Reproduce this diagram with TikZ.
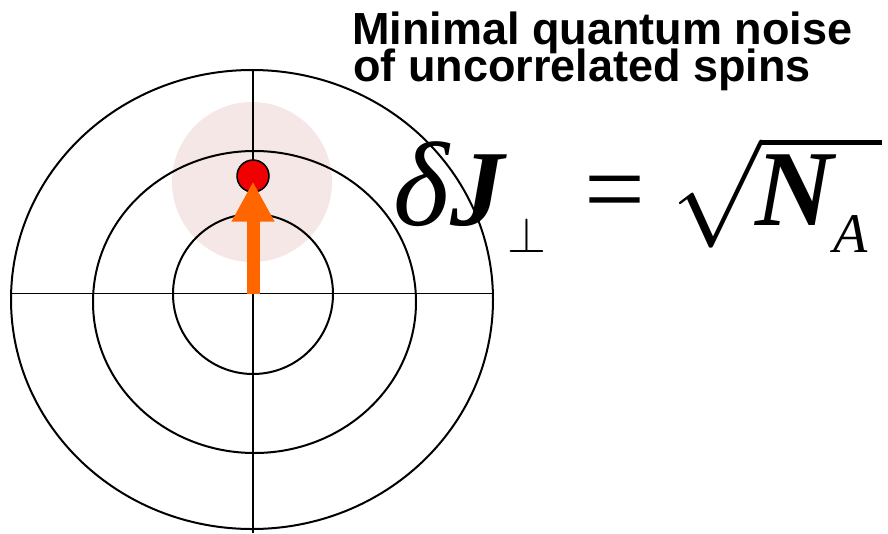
\documentclass[tikz,border=0pt]{standalone}
\usepackage{fix-cm}
\usepackage{fontspec}
\setmainfont{Liberation Serif}
\setsansfont{Liberation Sans}
\usepackage{xcolor}
\usetikzlibrary{arrows.meta,positioning}
\definecolor{haloPink}{RGB}{246,231,231}
\definecolor{spinRed}{RGB}{240,0,0}
\definecolor{arrowOrange}{RGB}{255,102,0}

\begin{document}
\begin{tikzpicture}[x=1pt,y=-1pt,
      ring/.style={line width=2pt},
      axisline/.style={line width=1.5pt},
      halo/.style={circle, fill=haloPink, minimum size=160pt, inner sep=0pt},
      spin/.style={circle, draw, line width=1.5pt, fill=spinRed, minimum size=32pt, inner sep=0pt},
      spinarrow/.style={arrowOrange, line width=13pt, -{Triangle[length=40pt,width=40pt]}},
      title/.style={anchor=base west, inner sep=0pt, font=\sffamily\bfseries\fontsize{45}{45}\selectfont},
      >=Stealth]
    \useasboundingbox (0,0) rectangle (888,533);
    % noise blob behind the rings
    \node[halo] (halo) at (252,182) {};
    \draw[ring] (252,299.5) ellipse [x radius=241pt, y radius=229.5pt];
    \draw[ring] (254.5,302) ellipse [x radius=161.5pt, y radius=151pt];
    \draw[ring] (253,294) circle [radius=80pt];
    \draw[axisline] (11,293.5) -- (493,293.5);
    \draw[axisline] (253,70) -- (253,533);
    \coordinate (o) at (253,293.5);
    \node[spin] (tip) at (253,176) {};
    \draw[spinarrow, shorten >=5.5pt] (o) -- (tip.center);
    % labels
    \node[title] (line1) at (352,44.3) {Minimal quantum noise};
    \node[title] (line2) at (353,81.7) {of uncorrelated spins};
    \node[anchor=base west, inner sep=0pt, font=\fontsize{108}{108}\selectfont] (noise) at (393,225)
      {{\fontsize{120}{120}\selectfont\itshape δ}\hspace{2pt}{\bfseries\itshape J}\hspace{3pt}\raisebox{-27pt}{\fontsize{50}{50}\selectfont$\perp$}\hspace{38pt}=\hspace{26pt}$\sqrt{\rule{0pt}{80pt}\hspace{-6pt}\mbox{\bfseries\itshape N}\raisebox{-27pt}{\fontsize{56}{56}\selectfont\itshape A}\hspace{14pt}}$};
  \end{tikzpicture}
\end{document}
